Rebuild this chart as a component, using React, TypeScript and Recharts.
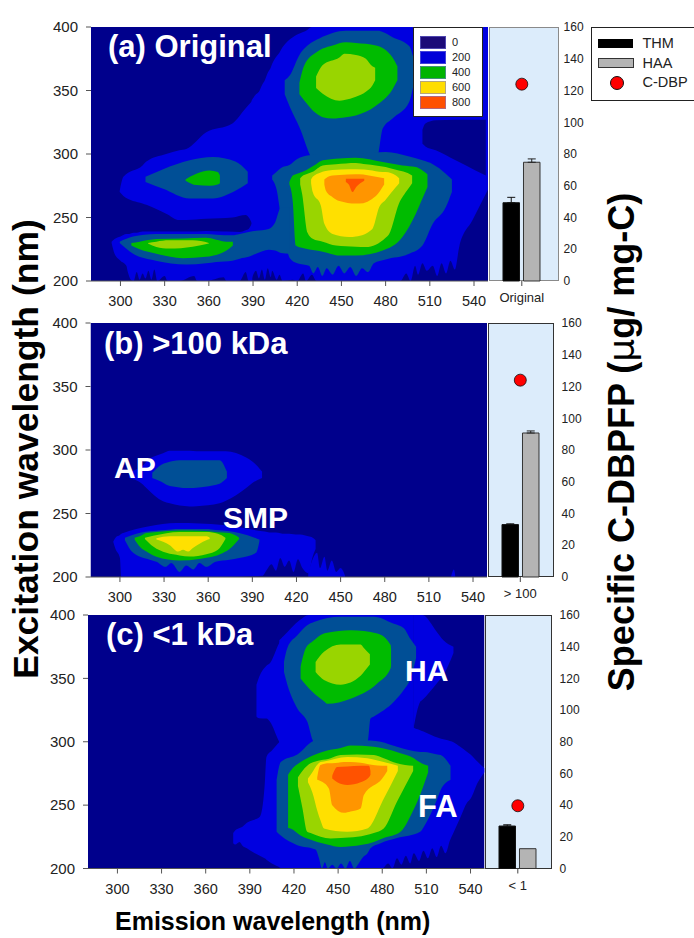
import React from "react";
import { Area, Bar, ComposedChart, ErrorBar, Line, XAxis, YAxis } from "recharts";

type Row = [number, number, number];

const NAVY = "#00008c";
const BLUE = "#0000e0";
const STEEL = "#004f96";
const GREEN = "#00bb00";
const LIME = "#99d500";
const YELLOW = "#ffe000";
const ORANGE = "#ff9500";
const RED = "#ff5200";

const emissionTicks = [300, 330, 360, 390, 420, 450, 480, 510, 540];
const excitationTicks = [200, 250, 300, 350, 400];
const cdbpTicks = [0, 20, 40, 60, 80, 100, 120, 140, 160];
const sizeLabels = ["Original", "> 100", "< 1"];
const thmValues = [49.3, 33, 26.8];
const thmErrors = [3.4, 0.5, 0.8];
const haaValues = [74.8, 90.7, 12.5];
const haaErrors = [2.1, 1.3, 0];
const cdbpValues = [124, 124, 39.6];
const legendLevels = ["0", "200", "400", "600", "800"];

const fullField: Row[] = [[280, 200, 400], [549.5, 200, 400]];

// ---- panel (a) contours: [emission, excitation low, excitation high]
const aBlueUpper: Row[] = [[299.5, 270, 271], [302, 267, 282], [315, 261, 291], [317.6, 260, 294], [331, 253, 300], [340, 248, 303], [344.7, 248, 304], [358, 249, 317], [376, 250, 324], [385, 252, 336], [389.5, 245, 342]];
const aBlueLower: Row[] = [[294, 230, 231], [296, 221.5, 233], [300, 216, 235], [304, 212, 237], [305, 207, 237], [307, 201, 237.5], [309, 200, 238], [311, 207, 238], [313, 201, 238.5], [315, 206, 239], [317, 202, 239], [319, 208, 239], [321, 201, 239], [323, 209, 239], [325, 200, 239], [330, 204, 239], [332, 200, 239], [340, 200, 239], [350, 204, 239], [352, 200, 239], [358, 200, 239.4], [370, 203, 239], [372, 200, 239], [381, 200, 238.6], [385, 207, 240], [387, 200, 241], [389.5, 200, 246]];
const aBlueMain: Row[] = [[389, 201, 342], [392, 208, 347], [394, 202, 349], [396, 209, 354], [398, 201, 358], [400, 210, 364], [402, 203, 368], [403, 208, 371], [406, 201, 377], [408, 205, 380], [410, 200, 384], [417, 201, 392], [420, 200, 394], [424, 206, 396], [426, 200, 397], [430, 205, 400], [433, 200, 400], [490, 200, 400], [494, 206, 400], [497, 200, 400], [500, 212, 400], [502, 205, 400], [505, 214, 400], [508, 208, 400], [512, 212, 400], [515, 204, 400], [518, 214, 400], [521, 206, 400], [524, 216, 400], [527, 209, 400], [530, 227, 400], [539, 248, 400], [549.5, 272, 400]];
const aNavyHole: Row[] = [[505, 308, 319], [507, 306, 324], [514, 303, 326.5], [527.5, 295, 327], [541, 287, 327], [548, 283, 327]];
const aSteelHA: Row[] = [[411.5, 347, 358], [415, 337, 362], [421.5, 321, 378], [430, 296, 388], [435, 290, 391], [453, 290, 397], [471, 290, 397], [475, 300, 397], [478, 320, 396], [484.7, 328, 392], [496, 341, 385], [499, 355, 375]];
const aSteelFA: Row[] = [[403, 280, 283], [406, 272, 286], [409, 250, 289], [415, 218, 291.5], [420, 214, 296], [428, 212, 299], [431, 206, 299.5], [434, 211, 300], [437, 204, 300], [440, 210, 300], [444, 205, 300], [448, 212, 300], [452, 206, 300], [456, 211, 300], [460, 204, 300], [464, 210, 300], [468, 207, 301], [472, 214, 301], [480, 217, 301.5], [496, 221.5, 298], [505, 228, 295], [512, 245, 292], [520.8, 258, 284.5], [523, 264, 282], [525, 270, 280]];
const aSteelSMP: Row[] = [[299.5, 230, 231], [308.6, 221.5, 235], [324, 216, 237], [344.7, 213, 237], [358, 214, 237], [365, 215, 236.5], [376, 216, 236], [381, 217.6, 237], [387, 219, 238.6], [392, 221.5, 239.5], [400.6, 224.7, 241], [405, 224, 246], [409, 222, 258], [415, 221.5, 258]];
const aSteelAP: Row[] = [[317, 278, 282], [329, 272.7, 288], [347, 265, 295], [362.7, 265, 297.6], [378, 271, 294], [386.4, 277, 286]];
const aGreenAP: Row[] = [[344.2, 279, 280], [351.5, 275.5, 284.5], [360.5, 275, 287], [366, 276, 285.8], [367.5, 277, 283]];
const aGreenSMP: Row[] = [[307.4, 228, 230], [313, 225, 231], [324.4, 221.5, 233], [342.4, 218, 233.5], [358, 219, 234], [372, 224, 231], [376.3, 228, 231]];
const aLimeSMP: Row[] = [[318.7, 229.5, 230], [324.4, 226.8, 231], [333, 225.5, 232], [349, 227, 232], [360, 229.5, 230]];
const aGreenHA: Row[] = [[421.5, 347, 356], [424.9, 342, 370], [432.8, 332, 380], [437.3, 329, 383], [444, 328, 385.5], [453, 329, 388], [459.8, 330.4, 387.5], [473.4, 338, 385.5], [484.7, 351, 376], [488, 358, 369]];
const aLimeHA: Row[] = [[432.8, 352, 361], [437.3, 347.5, 370], [448.6, 342, 376], [452, 342.5, 379], [459.8, 345, 378], [466.6, 349, 375], [471, 354, 369], [472.9, 358, 368]];
const aGreenFA: Row[] = [[414.7, 276, 278], [417, 262, 283], [419, 228, 284], [423.7, 226, 286], [432.8, 224, 292], [437.3, 223, 295], [448.6, 220, 296.5], [459.8, 220, 297], [478, 224, 293.7], [491.4, 234.6, 291], [500.5, 253, 289.7], [505, 265, 287], [508.4, 274, 284]];
const aLimeFA: Row[] = [[422, 276, 281], [423.3, 268.7, 282.5], [427, 238, 284.5], [430.5, 233.3, 286], [437.3, 231, 291], [446.3, 228, 292], [459.8, 227, 293], [466.6, 226.7, 292], [480, 234, 289.7], [482.4, 237, 289], [489, 260.8, 287], [495, 272, 285], [498, 277, 283]];
const aYellowFA: Row[] = [[429.4, 277, 280], [430.5, 270, 282], [436, 259.5, 285.5], [438.4, 245, 286.5], [444, 237, 287.5], [455.3, 234.6, 288], [459.8, 235, 288], [471, 241, 287], [475.6, 258, 286], [480, 264, 285.8], [487, 274, 283], [489.2, 277, 281]];
const aOrangeFA: Row[] = [[438.4, 276, 280], [439.5, 271, 281], [444, 266, 283], [448.6, 263, 283.5], [459.8, 261, 284], [462, 261, 284], [473.4, 267, 282], [479, 276, 281]];
const aRedFA: Row[] = [[453, 278, 280.5], [455, 276, 280.5], [457.6, 270, 280.5], [460, 274, 280.5], [465.5, 279, 280.5]];

// ---- panel (b) contours
const bBlueAP: Row[] = [[306.3, 278, 283], [315.8, 272.7, 288], [318, 270, 291], [329.3, 259.6, 297.5], [333.9, 258, 299.5], [347.4, 255.6, 299.5], [352, 255.8, 299], [367.7, 258, 299], [372, 260, 299], [385.8, 270, 294], [390, 274, 291], [396.6, 278, 283]];
const bSteelAP: Row[] = [[322, 278, 282], [328.2, 275, 288.4], [331.6, 272.7, 290], [340.6, 270.5, 292], [345, 270, 292], [365.5, 272.7, 292], [367.7, 273.5, 292], [372.7, 278, 283]];
const bBlueSMP: Row[] = [[295.5, 227.5, 228], [297, 222, 231], [300, 215, 233], [301, 200, 234], [302.3, 200, 234.6], [320, 200, 240], [338.4, 200, 242.5], [369.7, 200, 241], [396.8, 201, 236], [400, 206, 235.5], [403, 210, 235], [406, 205, 235], [409, 215, 234.5], [412, 208, 234], [415, 213, 234], [418, 204, 233.6], [421, 214, 233.4], [424, 207, 233.2], [428, 203, 232], [431, 216, 231], [433, 222, 229]];
const bBlueTail: Row[] = [[428, 200, 203], [431, 200, 214], [434, 200, 219], [436, 200, 207], [439, 200, 216], [441, 200, 205], [444, 200, 213], [447, 200, 204], [450, 200, 207], [453, 200, 201]];
const bBlueSpeck: Row[] = [[525, 200, 200], [527, 200, 206], [528, 200, 200]];
const bSteelSMP: Row[] = [[303.4, 229, 231], [309, 219, 233.3], [320.3, 213.5, 236], [324.8, 212, 236.5], [331, 208, 237], [335, 211, 237.5], [340.6, 204, 237.8], [345, 209, 237.8], [350, 206, 237.8], [354, 211, 237.8], [358.7, 208, 237.8], [365, 212, 237], [374.5, 213.6, 236], [381, 215, 234.6], [392.5, 219, 230.5], [394.8, 228, 229.5]];
const bGreenSMP: Row[] = [[310, 229.5, 231], [313.4, 224, 232], [318, 220, 234.6], [324.8, 216, 235.5], [340.6, 213, 236.7], [354, 214.2, 236.5], [370, 218.9, 235], [374.5, 222, 234.6], [381, 230, 231]];
const bLimeSMP: Row[] = [[317, 230, 231], [322.6, 224, 232.5], [331.6, 219, 234.5], [340.6, 217, 235.4], [347.4, 216.2, 235.4], [358.7, 218, 235.4], [366.6, 221.5, 234], [371.7, 230, 231]];
const bYellowSMP: Row[] = [[324.8, 229.5, 230.5], [333.9, 225, 232], [339.5, 220, 232], [342.9, 221.5, 232], [346.3, 220, 232], [349.6, 222.8, 232], [358.7, 229, 232], [361, 230, 231]];

// ---- panel (c) contours
const cBlueTop: Row[] = [[394.5, 320, 345], [396.3, 318.6, 351], [401.3, 318.4, 360], [403.6, 316, 362], [410, 300, 378], [412.6, 295, 383]];
const cBlueLow: Row[] = [[378.7, 220, 228], [380, 219, 230], [383, 221, 232], [385, 218, 233], [388, 216, 236], [392, 213, 238], [396.8, 210, 240.8], [400, 208, 264.5], [401.3, 207, 288], [405, 204, 293], [410.3, 201, 300], [412.6, 200, 302]];
const cBlueMain: Row[] = [[410, 201, 380], [412.6, 200, 383], [424, 200, 396], [430, 200, 400], [480, 200, 400], [484, 204, 400], [487, 200, 400], [490, 208, 400], [493, 203, 400], [496, 210, 400], [499, 204, 400], [501.4, 212, 400], [501.5, 212, 311], [505, 206, 309.5], [508, 214, 308], [511, 208, 306.5], [514, 216, 305], [517, 209, 303.5], [520, 218, 302.3], [523, 212, 301.5], [526, 222, 300.5], [528.7, 229, 299.5], [533, 240, 296], [537.7, 252, 292], [540, 255, 290], [545, 268, 284], [549.5, 276, 279]];
const cBlueRight: Row[] = [[501.2, 310, 400], [505.8, 331.6, 400], [507.2, 333, 400], [517, 346, 386.8], [521.6, 352.6, 380], [528.4, 370, 375]];
const cSteelHA: Row[] = [[413.2, 355, 363], [415.5, 345, 374], [422.3, 326.3, 384], [429, 316, 392], [433.6, 300, 394.5], [451.7, 300, 398.7], [470, 300, 398.7], [472, 318.4, 398.7], [474.3, 320, 398.7], [487.9, 331.6, 393], [494.7, 341, 389.5], [499.2, 350, 381], [503, 366, 375]];
const cSteelFA: Row[] = [[408.2, 229, 270], [411, 226, 284], [422.3, 218.4, 290], [434.7, 215, 301], [437, 208, 301], [439, 200, 301], [441, 205, 301], [443, 200, 301], [446, 203, 301], [449, 200, 301], [452, 204, 301], [455, 200, 301], [458, 206, 301], [461, 200, 301], [464, 204, 301], [467, 209, 301], [470, 212, 301], [472, 216, 301], [478.9, 220, 300], [490, 224, 296], [505.8, 229, 292], [508.3, 233, 292], [517.4, 255, 290], [519.7, 262, 289.5], [526.4, 270, 281]];
const cGreenHA: Row[] = [[424.5, 350, 359], [428, 345, 373.7], [432.5, 339.5, 379], [440.4, 332, 385.5], [442.6, 330, 386], [458.5, 334, 388], [476.6, 346, 385.5], [485.7, 358, 376.3], [486, 360, 373]];
const cLimeHA: Row[] = [[434.7, 355, 363], [440.4, 348.7, 371], [451.7, 345, 376.8], [465.3, 352, 376.8], [467.5, 355, 374], [471.6, 361, 369]];
const cGreenFA: Row[] = [[416, 232, 274], [417.7, 231.6, 277], [424.5, 226, 284], [429, 223.6, 287], [442.6, 219, 293], [451.7, 217, 295], [458.5, 217.5, 297], [474.3, 221, 296], [481, 224, 294.7], [492.4, 229, 291], [501.5, 247, 287], [503.8, 252.6, 285], [511.2, 276, 281]];
const cLimeFA: Row[] = [[422.7, 265, 272], [425.7, 248, 277], [429, 229, 281], [431.3, 228, 283], [444.9, 223.6, 287], [451.7, 224, 289.5], [463, 225, 290], [474.3, 228, 289.5], [481, 231.6, 287], [490, 252.6, 283], [501, 277, 281]];
const cYellowFA: Row[] = [[429.5, 268, 271], [432.5, 260, 276], [436, 245, 282], [438, 238, 284], [440.4, 231.6, 284.5], [456.2, 229, 288], [469.8, 231.6, 287], [481, 255, 284], [490.6, 277, 281]];
const cOrangeFA: Row[] = [[435.8, 270, 272], [438, 269, 281.6], [443.8, 263, 283], [446, 250, 283], [454, 244, 284], [458.5, 245, 284], [465.3, 247.4, 283.5], [467.5, 258, 283], [480, 271, 281], [483.4, 277, 281]];
const cRedFA: Row[] = [[446, 271, 273], [449.4, 268, 280], [456.2, 265.8, 280.5], [465.3, 268, 281], [471, 272, 281], [472, 274, 277]];

const panelA: [Row[], string][] = [
  [fullField, NAVY], [aBlueUpper, BLUE], [aBlueLower, BLUE], [aBlueMain, BLUE], [aNavyHole, NAVY],
  [aSteelHA, STEEL], [aSteelFA, STEEL], [aSteelSMP, STEEL], [aSteelAP, STEEL],
  [aGreenAP, GREEN], [aGreenSMP, GREEN], [aLimeSMP, LIME], [aGreenHA, GREEN], [aLimeHA, LIME],
  [aGreenFA, GREEN], [aLimeFA, LIME], [aYellowFA, YELLOW], [aOrangeFA, ORANGE], [aRedFA, RED],
];
const panelB: [Row[], string][] = [
  [fullField, NAVY], [bBlueAP, BLUE], [bSteelAP, STEEL], [bBlueSMP, BLUE], [bBlueTail, BLUE], [bBlueSpeck, BLUE],
  [bSteelSMP, STEEL], [bGreenSMP, GREEN], [bLimeSMP, LIME], [bYellowSMP, YELLOW],
];
const panelC: [Row[], string][] = [
  [fullField, NAVY], [cBlueTop, BLUE], [cBlueLow, BLUE], [cBlueMain, BLUE], [cBlueRight, BLUE],
  [cSteelHA, STEEL], [cSteelFA, STEEL], [cGreenHA, GREEN], [cLimeHA, LIME],
  [cGreenFA, GREEN], [cLimeFA, LIME], [cYellowFA, YELLOW], [cOrangeFA, ORANGE], [cRedFA, RED],
];

const FONT = "'Liberation Sans', Arial, sans-serif";
const INK = "#222";

function ContourPanel({ top, bottom, left, right, bands }: { top: number; bottom: number; left: number; right: number; bands: [Row[], string][] }) {
  const chartTop = top - 12;
  const height = bottom - chartTop + 34;
  const width = right + 2;
  return (
    <div style={{ position: "absolute", left: 0, top: chartTop }}>
      <ComposedChart width={width} height={height} margin={{ top: 12, right: 2, bottom: 0, left: 0 }}>
        <XAxis
          type="number"
          dataKey="x"
          domain={[280, 549.5]}
          ticks={emissionTicks}
          allowDataOverflow
          height={34}
          tickSize={5}
          tickMargin={10}
          interval={0}
          stroke="#555"
          tick={{ fontSize: 14.5, fill: INK, fontFamily: FONT }}
        />
        <YAxis
          type="number"
          domain={[200, 400]}
          ticks={excitationTicks}
          allowDataOverflow
          width={left}
          tickSize={5}
          tickMargin={8}
          axisLine={false}
          stroke="#555"
          tick={{ fontSize: 15, fill: INK, fontFamily: FONT }}
        />
        {bands.map(([rows, color], i) => (
          <Area
            key={i}
            data={rows.map(([x, lo, hi]) => ({ x, v: [lo, hi] }))}
            dataKey="v"
            type="monotoneX"
            fill={color}
            fillOpacity={1}
            stroke="none"
            dot={false}
            activeDot={false}
            isAnimationActive={false}
          />
        ))}
      </ComposedChart>
    </div>
  );
}

function BarPanel({ idx, top, bottom, left, right, center, frame, labelGap }: { idx: number; top: number; bottom: number; left: number; right: number; center: number; frame: string; labelGap: number }) {
  const rows = [{
    name: sizeLabels[idx],
    thm: thmValues[idx],
    thmErr: [0, thmErrors[idx]],
    haa: haaValues[idx],
    haaErr: [0, haaErrors[idx]],
    cdbp: cdbpValues[idx],
  }];
  const chartTop = top - 12;
  const plotLeft = 2 * center - right;
  return (
    <>
      <div style={{ position: "absolute", left, top, width: right - left, height: bottom - top, boxSizing: "border-box", background: "#dcecfb", border: `1px solid ${frame}` }} />
      <div style={{ position: "absolute", left: plotLeft, top: chartTop }}>
        <ComposedChart
          width={right - plotLeft + 34}
          height={bottom - chartTop + 34}
          data={rows}
          barGap={4}
          margin={{ top: 12, right: 0, bottom: 0, left: 0 }}
        >
          <XAxis
            dataKey="name"
            type="category"
            height={34}
            tickSize={5}
            tickMargin={7}
            axisLine={false}
            stroke="#444"
            tick={{ fontSize: 13, fill: INK, fontFamily: FONT }}
          />
          <YAxis
            orientation="right"
            type="number"
            domain={[0, 160]}
            ticks={cdbpTicks}
            width={34}
            tickSize={0}
            tickLine={false}
            tickMargin={labelGap}
            axisLine={false}
            tick={{ fontSize: 12, fill: INK, fontFamily: FONT, textAnchor: "start" }}
          />
          <Bar dataKey="thm" barSize={16.5} fill="#000" stroke="#111" isAnimationActive={false}>
            <ErrorBar dataKey="thmErr" width={4} stroke="#111" strokeWidth={1} isAnimationActive={false} />
          </Bar>
          <Bar dataKey="haa" barSize={16.5} fill="#b4b4b4" stroke="#333" isAnimationActive={false}>
            {haaErrors[idx] > 0 ? <ErrorBar dataKey="haaErr" width={4} stroke="#222" strokeWidth={1} isAnimationActive={false} /> : null}
          </Bar>
          <Line
            dataKey="cdbp"
            stroke="none"
            dot={{ r: 6, fill: "#ff0000", stroke: "#111", strokeWidth: 0.8, fillOpacity: 1 }}
            activeDot={false}
            isAnimationActive={false}
          />
        </ComposedChart>
      </div>
    </>
  );
}

const overlay: React.CSSProperties = { position: "absolute", fontFamily: FONT, whiteSpace: "nowrap", lineHeight: 1 };

function Tag({ x, y, size, text }: { x: number; y: number; size: number; text: string }) {
  return <div style={{ ...overlay, left: x, top: y, fontSize: size, fontWeight: 700, color: "#fff" }}>{text}</div>;
}

export default function App() {
  const levelColors = ["#1c0a78", "#0000d8", "#00b400", "#ffdd00", "#ff5000"];
  return (
    <div style={{ position: "absolute", left: 0, top: 0, width: 694, height: 938, background: "#fff", overflow: "hidden" }}>
      <ContourPanel top={27} bottom={281} left={91} right={488} bands={panelA} />
      <ContourPanel top={323} bottom={577} left={90.5} right={487} bands={panelB} />
      <ContourPanel top={615} bottom={868.5} left={88} right={484.5} bands={panelC} />
      <BarPanel idx={0} top={27} bottom={281} left={488.5} right={558.5} center={521.7} frame="#8a8a8a" labelGap={5} />
      <BarPanel idx={1} top={323} bottom={577} left={487.5} right={553.5} center={520.2} frame="#333" labelGap={8} />
      <BarPanel idx={2} top={615} bottom={868.5} left={485} right={552} center={518.2} frame="#333" labelGap={8} />

      <Tag x={108} y={31} size={31} text="(a) Original" />
      <Tag x={104} y={328} size={31} text="(b) >100 kDa" />
      <Tag x={106} y={619} size={31} text="(c) <1 kDa" />
      <Tag x={114} y={452.5} size={30} text="AP" />
      <Tag x={223} y={502.5} size={30} text="SMP" />
      <Tag x={405} y={655.5} size={30} text="HA" />
      <Tag x={418} y={790.5} size={31} text="FA" />

      <div style={{ ...overlay, left: 413, top: 27, width: 68, height: 88, background: "#fff", border: "1px solid #222" }} />
      {legendLevels.map((label, i) => (
        <React.Fragment key={label}>
          <div style={{ ...overlay, left: 420, top: 36 + i * 15, width: 24, height: 11, background: levelColors[i], border: "1px solid rgba(120,120,220,0.55)" }} />
          <div style={{ ...overlay, left: 452, top: 36.5 + i * 15, fontSize: 11, color: INK }}>{label}</div>
        </React.Fragment>
      ))}

      <div style={{ ...overlay, left: 590.5, top: 26.5, width: 110, height: 72, background: "#fff", border: "1px solid #222" }} />
      <div style={{ ...overlay, left: 598, top: 39, width: 35, height: 9, background: "#000" }} />
      <div style={{ ...overlay, left: 598, top: 58, width: 34, height: 8, background: "#b4b4b4", border: "1px solid #333" }} />
      <div style={{ ...overlay, left: 610, top: 75.5, width: 12, height: 12, borderRadius: "50%", background: "#f00", border: "0.8px solid #111" }} />
      <div style={{ ...overlay, left: 642.5, top: 36, fontSize: 14.5, color: INK }}>THM</div>
      <div style={{ ...overlay, left: 642.5, top: 55.5, fontSize: 14.5, color: INK }}>HAA</div>
      <div style={{ ...overlay, left: 642.5, top: 74.5, fontSize: 14.5, color: INK }}>C-DBP</div>

      <div style={{ ...overlay, left: 27, top: 449, fontSize: 35.5, fontWeight: 700, color: "#000", transform: "translate(-50%,-50%) rotate(-90deg)" }}>Excitation wavelength (nm)</div>
      <div style={{ ...overlay, left: 622, top: 442, fontSize: 36, fontWeight: 700, color: "#000", transform: "translate(-50%,-50%) rotate(-90deg)" }}>
        Specific C-DBPFP (<span style={{ fontWeight: 400, fontFamily: "'DejaVu Sans', sans-serif" }}>μ</span>g/ mg-C)
      </div>
      <div style={{ ...overlay, left: 115, top: 909, fontSize: 25, fontWeight: 700, color: "#000" }}>Emission wavelength (nm)</div>
    </div>
  );
}
